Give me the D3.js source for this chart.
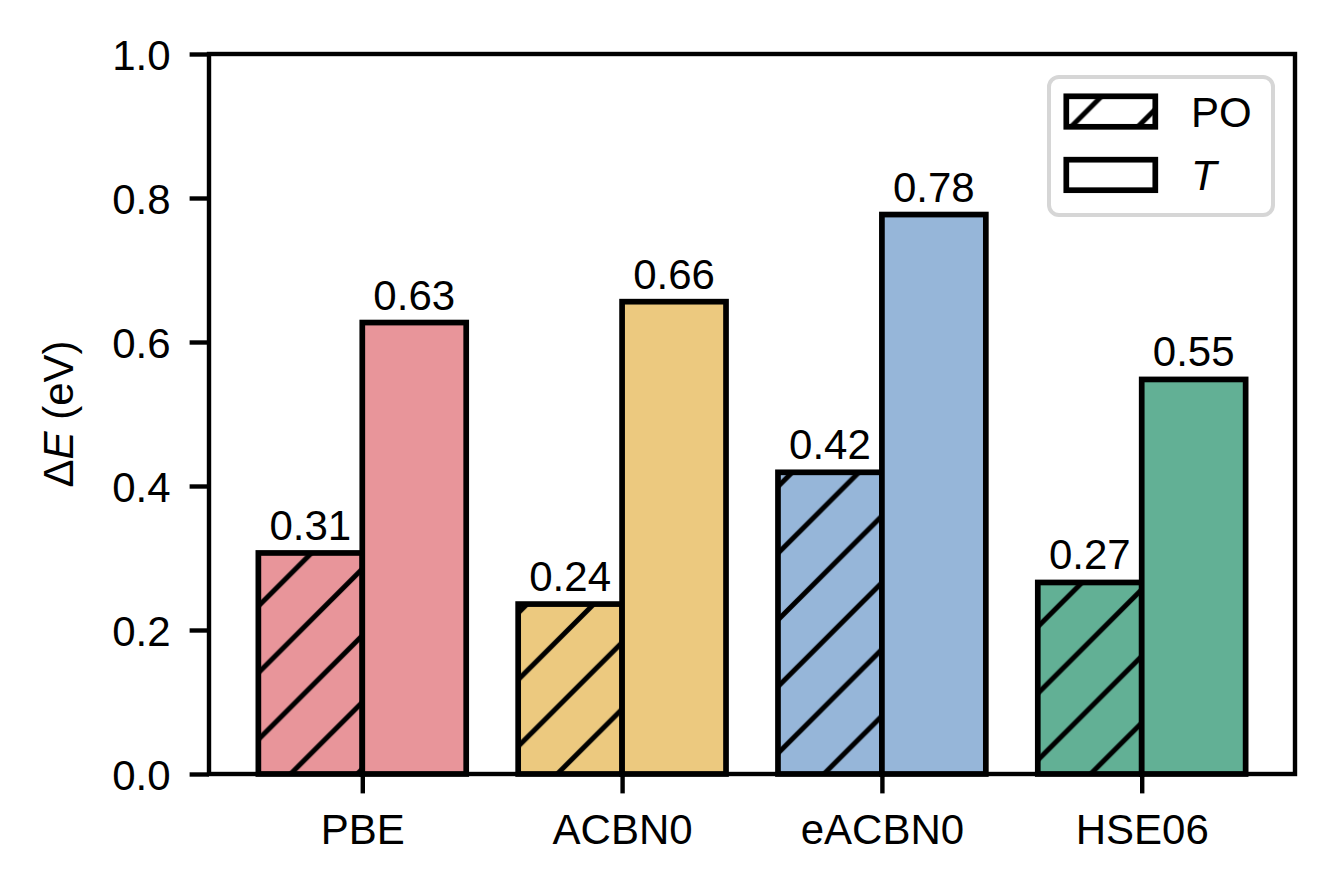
<!DOCTYPE html>
<html>
<head>
<meta charset="utf-8">
<script src="https://cdn.jsdelivr.net/npm/d3@7"></script>
<style>
  html, body { margin: 0; padding: 0; background: #fff; }
  svg { display: block; font-family: "Liberation Sans", Arial, sans-serif; }
</style>
</head>
<body>
<svg id="chart" width="1334" height="895"></svg>
<script>
// ---- data ----
const categories = ["PBE", "ACBN0", "eACBN0", "HSE06"];
const poValues = [0.307, 0.236, 0.419, 0.266];
const tValues = [0.627, 0.656, 0.777, 0.548];
const colors = ["#E8959A", "#ECC97F", "#96B6D9", "#62B095"];
const yTicks = [0.0, 0.2, 0.4, 0.6, 0.8, 1.0];
const seriesNames = ["PO", "T"];

// ---- layout ----
const svg = d3.select("#chart");
const plotL = 209, plotR = 1295, plotT = 54, plotB = 774;
const barW = 0.4;
const x = d3.scaleLinear().domain([-0.59, categories.length - 1 + 0.59]).range([plotL, plotR]);
const y = d3.scaleLinear().domain([0, 1]).range([plotB, plotT]);
const fontSize = 42;
const lw = 4.4, tickLen = 19.4;

// hatch pattern
const s = 66.67;
const defs = svg.append("defs");
const pat = defs.append("pattern")
  .attr("id", "hatch")
  .attr("patternUnits", "userSpaceOnUse")
  .attr("x", 64.5).attr("y", 0)
  .attr("width", s).attr("height", s);
pat.append("path")
  .attr("d", `M${-s/4},${s/4}L${s/4},${-s/4}M0,${s}L${s},0M${3*s/4},${5*s/4}L${5*s/4},${3*s/4}`)
  .attr("stroke", "#000").attr("stroke-width", 5).attr("stroke-linecap", "square");

// ---- bars ----
const idx = d3.range(categories.length);
const gBars = svg.append("g");
gBars.selectAll("rect.po-fill").data(idx).join("rect")
  .attr("class", "po-fill")
  .attr("x", i => x(i - barW))
  .attr("y", i => y(poValues[i]))
  .attr("width", i => x(i) - x(i - barW))
  .attr("height", i => y(0) - y(poValues[i]))
  .attr("fill", i => colors[i]);
gBars.selectAll("rect.po-hatch").data(idx).join("rect")
  .attr("class", "po-hatch")
  .attr("x", i => x(i - barW))
  .attr("y", i => y(poValues[i]))
  .attr("width", i => x(i) - x(i - barW))
  .attr("height", i => y(0) - y(poValues[i]))
  .attr("fill", "url(#hatch)")
  .attr("stroke", "#000").attr("stroke-width", 5.7);
gBars.selectAll("rect.t").data(idx).join("rect")
  .attr("class", "t")
  .attr("x", i => x(i))
  .attr("y", i => y(tValues[i]))
  .attr("width", i => x(i + barW) - x(i))
  .attr("height", i => y(0) - y(tValues[i]))
  .attr("fill", i => colors[i])
  .attr("stroke", "#000").attr("stroke-width", 5.7);

// value labels
const fmt = d3.format(".2f");
const gLab = svg.append("g").attr("font-size", fontSize).attr("text-anchor", "middle").attr("fill", "#000");
gLab.selectAll("text.po").data(idx).join("text")
  .attr("class", "po")
  .attr("x", i => x(i - barW / 2))
  .attr("y", i => y(poValues[i]) - 13)
  .text(i => fmt(poValues[i]));
gLab.selectAll("text.t").data(idx).join("text")
  .attr("class", "t")
  .attr("x", i => x(i + barW / 2))
  .attr("y", i => y(tValues[i]) - 13)
  .text(i => fmt(tValues[i]));

// ---- axes ----
const xAxis = d3.axisBottom(x).tickValues(idx).tickFormat(i => categories[i])
  .tickSize(tickLen).tickPadding(19);
const gx = svg.append("g").attr("transform", `translate(0,${plotB})`).call(xAxis);
const yAxis = d3.axisLeft(y).tickValues(yTicks).tickFormat(d3.format(".1f"))
  .tickSize(tickLen).tickPadding(19);
const gy = svg.append("g").attr("transform", `translate(${plotL},0)`).call(yAxis);
[gx, gy].forEach(g => {
  g.select(".domain").remove();
  g.selectAll(".tick line").attr("stroke", "#000").attr("stroke-width", lw);
  g.selectAll(".tick text").attr("font-size", fontSize).attr("fill", "#000")
    .attr("font-family", "'Liberation Sans', Arial, sans-serif");
});
gx.selectAll(".tick text").attr("dy", "0.71em").attr("y", tickLen + 21);
gy.selectAll(".tick text").attr("dy", "0.36em");

// frame (spines)
svg.append("rect")
  .attr("x", plotL).attr("y", plotT)
  .attr("width", plotR - plotL).attr("height", plotB - plotT)
  .attr("fill", "none").attr("stroke", "#000").attr("stroke-width", lw);

// y label
const yl = svg.append("text")
  .attr("transform", `translate(73,${(plotT + plotB) / 2}) rotate(-90)`)
  .attr("text-anchor", "middle")
  .attr("font-size", fontSize);
yl.append("tspan").text("Δ");
yl.append("tspan").attr("font-style", "italic").text("E");
yl.append("tspan").text(" (eV)");

// ---- legend ----
const lg = svg.append("g");
lg.append("rect")
  .attr("x", 1049).attr("y", 77).attr("width", 224).attr("height", 138)
  .attr("rx", 10).attr("ry", 10)
  .attr("fill", "#fff").attr("stroke", "#d6d6d6").attr("stroke-width", 4);
const legendRows = [
  { name: seriesNames[0], fill: "url(#hatch)", italic: false, y0: 96.3 },
  { name: seriesNames[1], fill: "#fff", italic: true, y0: 159.7 }
];
legendRows.forEach(r => {
  lg.append("rect")
    .attr("x", 1066.3).attr("y", r.y0).attr("width", 89).attr("height", 30.5)
    .attr("fill", r.fill).attr("stroke", "#000").attr("stroke-width", 5.7);
  lg.append("text")
    .attr("x", 1191).attr("y", r.y0 + 30.5)
    .attr("font-size", fontSize)
    .attr("font-style", r.italic ? "italic" : "normal")
    .text(r.name);
});
</script>
</body>
</html>
